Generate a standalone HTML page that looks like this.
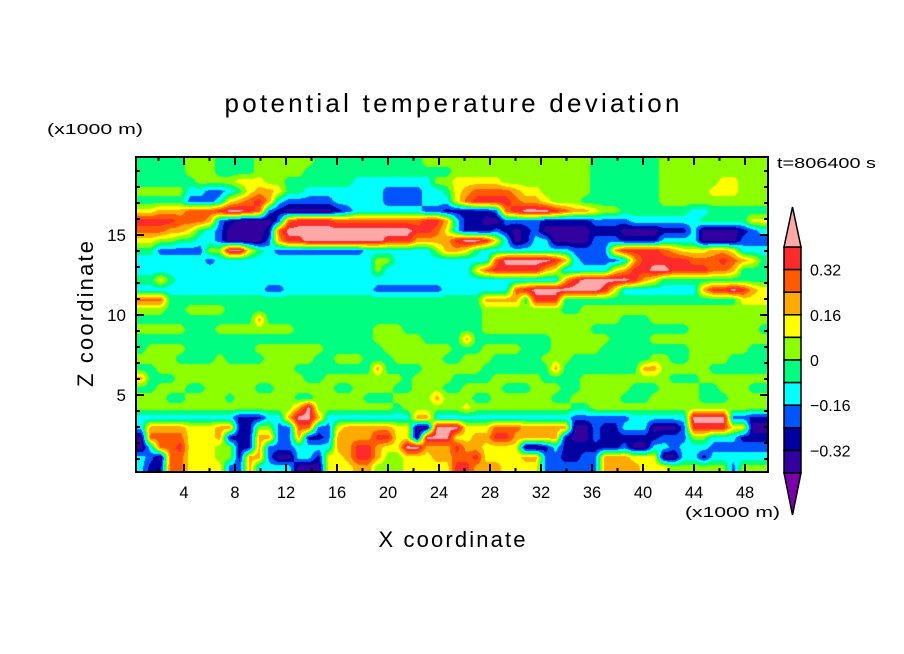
<!DOCTYPE html>
<html><head><meta charset="utf-8">
<style>
html,body{margin:0;padding:0;background:#fff;}
#wrap{position:relative;width:904px;height:654px;overflow:hidden;font-family:"Liberation Sans",sans-serif;}
#field{position:absolute;left:136px;top:157px;width:632px;height:315px;}
#over{position:absolute;left:0;top:0;}
</style></head>
<body>
<div id="wrap">
<canvas id="field" width="632" height="315"></canvas>
<svg id="over" width="904" height="654">
  <text x="452" y="112" text-anchor="middle" font-size="26" textLength="455" lengthAdjust="spacing">potential temperature deviation</text>
  <text x="47" y="134" font-size="15" textLength="96" lengthAdjust="spacingAndGlyphs">(x1000 m)</text>
  <text transform="translate(93,314) rotate(-90)" text-anchor="middle" font-size="22" textLength="146" lengthAdjust="spacing">Z coordinate</text>
  <text x="452" y="547" text-anchor="middle" font-size="22" textLength="147" lengthAdjust="spacing">X coordinate</text>
  <text x="685" y="517" font-size="15" textLength="95" lengthAdjust="spacingAndGlyphs">(x1000 m)</text>
  <text x="777" y="168" font-size="15" textLength="99" lengthAdjust="spacingAndGlyphs">t=806400 s</text>
  <g id="axes"></g>
  <g id="cbar"></g>
</svg>
</div>
<script>
// level colors (index 0 = < -0.40 ... 11 = > 0.40)
const levelColors = ["#7a00aa","#3300a0","#0000a0","#0055ff","#00ffff","#00ff80","#8cff00","#ffff00","#ffaa00","#ff5a00","#ff2a2a","#ffa8a8"];
const cbarTicks = [0.32,0.16,0,-0.16,-0.32];
const cbarTickLabels = ["0.32","0.16","0","\u22120.16","\u22120.32"];
const xTicks = [4,8,12,16,20,24,28,32,36,40,44,48];
const yTicks = [5,10,15];
// field rows (top to bottom), run-length "level x count", 64 columns each
const fieldRows = [
"5x5 6x3 5x4 6x6 5x11 6x17 5x7 6x11",
"5x5 6x3 5x4 6x5 5x15 6x14 5x7 6x11",
"5x6 6x4 7x3 6x2 5x7 4x8 6x2 7x5 6x9 5x7 6x6 7x2 6x3",
"6x5 4x2 3x2 4x1 5x1 7x1 8x2 7x1 5x2 4x8 3x4 4x2 5x1 7x1 8x1 9x4 8x1 7x2 6x5 5x7 6x5 7x3 6x3",
"5x5 3x3 4x1 7x1 8x1 9x1 Ax1 8x1 4x1 3x5 4x5 3x4 4x3 7x1 9x1 Ax4 9x1 8x2 7x1 6x3 5x8 6x11",
"7x2 8x3 9x3 Ax1 Bx2 Ax1 9x1 3x1 2x1 1x5 2x1 3x1 4x7 3x2 2x5 3x1 9x1 Ax1 Bx3 Ax1 9x1 8x2 7x1 6x2 5x7 4x2 5x6",
"Ax4 9x3 8x1 3x1 2x1 1x4 3x1 9x1 Ax4 9x9 Ax2 8x1 4x1 2x2 1x2 3x4 2x5 3x4 4x7 5x5 7x2",
"9x3 8x2 7x1 5x1 4x1 3x1 1x4 2x1 9x1 Bx13 Ax2 9x1 7x1 4x1 2x3 3x1 2x1 1x1 2x1 3x1 1x5 2x3 1x4 2x3 4x1 1x4 2x1 3x1 4x1",
"7x2 6x2 5x2 4x2 3x1 1x4 3x1 8x1 Ax2 Bx8 Ax3 8x3 8x1 Ax1 Bx2 Ax1 7x1 4x1 1x1 2x1 4x2 1x4 3x3 2x4 4x4 1x4 3x3",
"5x2 3x5 6x2 Bx2 7x1 5x1 4x1 3x9 4x7 6x1 8x2 7x1 5x1 4x9 3x4 8x1 Ax4 9x1 8x1 7x3 8x2 7x1 4x3",
"4x7 3x1 4x16 6x2 4x10 9x1 Bx5 Ax1 8x1 4x1 3x4 4x1 8x1 Ax5 9x3 Ax1 9x1 8x1 7x1 5x1",
"4x24 6x1 4x9 7x1 9x1 Ax5 8x1 7x1 4x5 7x1 8x1 Ax2 Bx2 Ax4 9x2 8x1 5x3",
"5x2 7x1 5x1 4x39 8x1 Ax1 Bx5 Ax1 8x1 7x1 5x11",
"4x13 3x2 4x9 3x7 4x7 9x1 Ax1 Bx7 Ax1 7x1 4x8 8x1 Ax2 Bx1 Ax1 8x1 7x1",
"9x3 5x32 8x4 5x1 Ax3 5x18 7x3",
"6x3 5x2 6x4 5x26 6x8 5x2 6x19",
"5x12 8x1 5x22 6x14 5x3 6x12",
"6x5 5x3 6x8 5x8 6x3 5x8 6x11 5x10 6x7 5x1",
"5x24 6x5 5x4 8x1 5x8 6x6 5x4 6x12",
"5x1 6x4 5x7 6x7 5x6 6x7 5x3 6x4 5x3 6x5 5x9 6x6 5x2",
"6x4 5x4 6x1 5x4 6x5 5x2 6x3 5x3 6x5 5x2 6x3 5x5 6x3 5x8 6x2 5x2 6x4 5x4",
"5x2 6x14 5x8 8x1 5x4 6x6 5x7 8x1 5x8 8x2 6x5 5x6",
"8x1 5x3 6x13 5x2 6x8 5x1 6x4 5x4 6x5 5x4 6x9 5x3 6x7",
"5x2 6x3 5x2 6x5 5x2 6x6 5x2 6x4 5x2 6x3 5x2 6x4 5x3 6x3 5x2 6x5 5x3 6x4 5x2 6x3 5x2",
"6x3 5x2 6x4 5x1 6x6 5x2 6x5 5x3 6x4 8x1 6x3 5x2 6x6 5x2 6x5 5x3 6x5 5x3 6x4",
"6x16 8x1 Bx1 6x8 5x1 6x6 7x1 6x10 5x2 6x18",
"4x10 2x3 4x2 8x1 Bx2 8x1 4x9 8x2 4x14 3x6 4x6 Bx4 3x2 2x2",
"4x1 8x4 7x3 8x2 2x2 6x2 3x2 9x2 3x2 7x1 8x5 7x2 1x2 Bx3 7x3 9x3 8x5 1x2 3x1 2x2 4x3 1x3 3x1 Ax4 7x2 1x2",
"1x1 9x4 7x3 8x1 2x3 8x2 3x2 8x1 2x2 3x1 8x4 Ax2 7x2 1x1 Bx3 7x2 8x2 Ax2 8x5 2x1 1x2 3x1 2x6 3x3 6x2 4x3 2x3",
"1x1 4x1 9x2 Ax1 7x3 6x2 2x2 8x1 3x3 4x4 8x2 Ax2 8x1 7x2 Bx2 8x3 Ax1 8x2 7x4 1x2 2x1 4x1 2x6 3x1 1x2 4x2 3x1 4x3 3x6",
"4x1 3x1 1x1 9x2 7x3 6x2 2x1 8x2 3x1 1x2 4x2 2x1 7x2 8x1 Ax2 8x1 6x2 7x3 8x2 9x2 Ax1 7x4 8x2 3x2 2x2 3x2 8x3 7x3 1x2 4x2 2x1 4x4 4x2",
"4x1 2x2 9x2 7x4 3x2 8x1 4x4 1x3 7x3 8x2 6x3 7x5 Ax2 8x3 7x4 3x6 8x4 7x3 6x6 3x1 6x3"
];
const NC = 64;
const X0 = 133, XS = 12.75, Y0 = 475, YS = 16;
const PL = 136, PT = 157, PW = 632, PH = 315;
const xPix = v => X0 + XS * v;
const yPix = v => Y0 - YS * v;

function decodeRow(s){
  const out=[];
  s.trim().split(/\s+/).forEach(tok=>{
    const [lv,n]=tok.split('x');
    const v=parseInt(lv,16);
    for(let i=0;i<+n;i++) out.push(v);
  });
  while(out.length<NC) out.push(out[out.length-1]);
  return out.slice(0,NC);
}
const grid = fieldRows.map(decodeRow);
const NR = grid.length;

(function(){
  const cv=document.getElementById('field');
  const ctx=cv.getContext('2d');
  const img=ctx.createImageData(PW,PH);
  const rgb=levelColors.map(h=>[parseInt(h.slice(1,3),16),parseInt(h.slice(3,5),16),parseInt(h.slice(5,7),16)]);
  for(let py=0;py<PH;py++){
    let gy=(py+0.5)/PH*NR-0.5; gy=Math.max(0,Math.min(NR-1,gy));
    const r0=Math.floor(gy), r1=Math.min(NR-1,r0+1), fy=gy-r0;
    for(let px=0;px<PW;px++){
      let gx=(px+0.5)/PW*NC-0.5; gx=Math.max(0,Math.min(NC-1,gx));
      const c0=Math.floor(gx), c1=Math.min(NC-1,c0+1), fx=gx-c0;
      const v=(grid[r0][c0]*(1-fx)+grid[r0][c1]*fx)*(1-fy)+(grid[r1][c0]*(1-fx)+grid[r1][c1]*fx)*fy+0.5;
      const lv=Math.max(0,Math.min(11,Math.floor(v)));
      const k=(py*PW+px)*4, c=rgb[lv];
      img.data[k]=c[0];img.data[k+1]=c[1];img.data[k+2]=c[2];img.data[k+3]=255;
    }
  }
  ctx.putImageData(img,0,0);
})();

const NS='http://www.w3.org/2000/svg';
function mk(tag,attrs,parent){const e=document.createElementNS(NS,tag);for(const k in attrs)e.setAttribute(k,attrs[k]);parent.appendChild(e);return e;}

(function(){
  const ax=document.getElementById('axes');
  for(let v=2;v<=48;v+=2){
    const x=xPix(v), len=(v%4===0)?8:4;
    const t1=mk('line',{x1:x,x2:x,y1:PT+PH,y2:PT+PH-len,stroke:'#000','stroke-width':2},ax);
    
    
    const t2=mk('line',{x1:x,x2:x,y1:PT,y2:PT+len,stroke:'#000','stroke-width':2},ax);
    
    
  }
  for(let v=1;v<=19;v++){
    const y=yPix(v), len=(v%5===0)?8:4;
    const t1=mk('line',{x1:PL,x2:PL+len,y1:y,y2:y,stroke:'#000','stroke-width':2},ax);
    
    
    const t2=mk('line',{x1:PL+PW,x2:PL+PW-len,y1:y,y2:y,stroke:'#000','stroke-width':2},ax);
    
    
  }
  xTicks.forEach(v=>{
    const t=mk('text',{x:xPix(v),y:498,'text-anchor':'middle','font-size':16.5},ax);
    t.textContent=String(v);
    
    
  });
  yTicks.forEach(v=>{
    const t=mk('text',{x:126,y:yPix(v)+6,'text-anchor':'end','font-size':17},ax);
    t.textContent=String(v);
    
    
  });
  const f=mk('rect',{x:PL,y:PT,width:PW,height:PH,fill:'none',stroke:'#000','stroke-width':2},ax);
  
  
})();

(function(){
  const cb=document.getElementById('cbar');
  const cx=784, cw=17, top=247, bot=473;
  const nb=10, bh=(bot-top)/nb;
  const valToY=v=>top+(0.40-v)/0.08*bh;
  for(let i=0;i<nb;i++){
    const r=mk('rect',{x:cx,y:top+i*bh,width:cw,height:bh,fill:levelColors[10-i],stroke:'#000','stroke-width':1.5},cb);
    
    
  }
  const tu=mk('polygon',{points:`${cx},${top} ${cx+cw},${top} ${cx+cw/2},${top-40}`,fill:levelColors[11],stroke:'#000','stroke-width':1.5},cb);
  
  
  const td=mk('polygon',{points:`${cx},${bot} ${cx+cw},${bot} ${cx+cw/2},${bot+42}`,fill:levelColors[0],stroke:'#000','stroke-width':1.5},cb);
  
  
  cbarTicks.forEach((v,i)=>{
    const t=mk('text',{x:810,y:valToY(v)+6,'font-size':16},cb);
    t.textContent=cbarTickLabels[i];
    
    
  });
})();
</script>
</body></html>
